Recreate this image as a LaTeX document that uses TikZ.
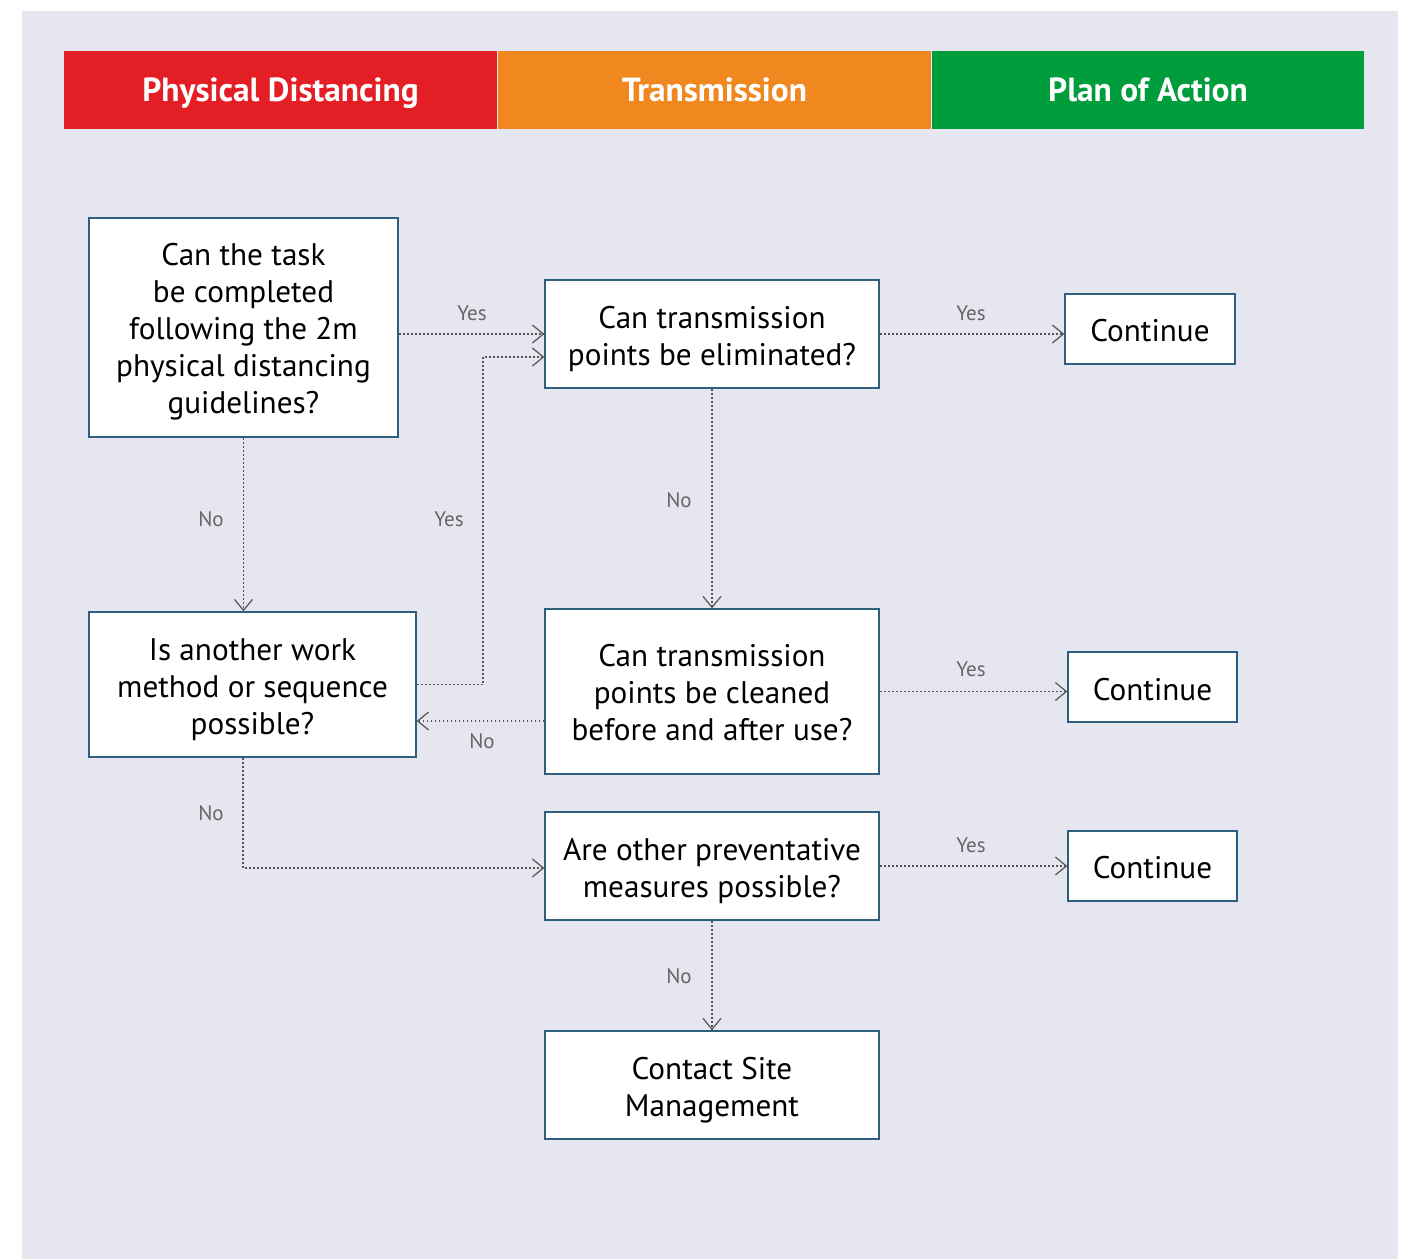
\documentclass[tikz,border=0pt]{standalone}
\usepackage{fontspec}
\setmainfont{PT Sans}
\usetikzlibrary{arrows.meta}
\definecolor{bgc}{HTML}{E5E6EF}
\definecolor{redc}{HTML}{E31F25}
\definecolor{orangec}{HTML}{F0871F}
\definecolor{greenc}{HTML}{009D3D}
\definecolor{boxc}{HTML}{2E5F7F}
\definecolor{linec}{HTML}{555555}
\definecolor{labc}{HTML}{666666}
\begin{document}
\begin{tikzpicture}[x=0.5pt,y=-0.5pt,
  box/.style={draw=boxc, line width=0.7pt, fill=white, inner sep=0pt},
  btext/.style={align=center, inner sep=0pt, font=\fontsize{15.6}{18.5}\selectfont},
  header/.style={inner sep=0pt, text=white, font=\fontsize{16.7}{18}\selectfont\bfseries,
    minimum height=39pt, text height=12pt, text depth=1pt},
  conn/.style={draw=linec, line width=0.9pt, dash pattern=on 0.9pt off 1.1pt,
    -{Straight Barb[length=5.5pt,width=9pt,line width=0.6pt]}},
  lab/.style={text=labc, font=\fontsize{10.5}{12}\selectfont, inner sep=0pt}]
\useasboundingbox (0,0) rectangle (1404,1259);
\fill[white] (0,0) rectangle (1404,1259);
\fill[bgc] (22,11) rectangle (1398,1259);
% headers
\node[header, fill=redc, minimum width=216.5pt] (h1) at (280.5,90) {Physical Distancing};
\node[header, fill=orangec, minimum width=216.5pt] (h2) at (714.5,90) {Transmission};
\node[header, fill=greenc, minimum width=216pt] (h3) at (1148,90) {Plan of Action};
% boxes
\node[box, minimum width=154.5pt, minimum height=109.5pt] (A) at (243.5,327.5) {};
\node[btext, yshift=-2pt] (At) at (A.center)
  {Can the task\\be completed\\following the 2m\\physical distancing\\guidelines?};
\node[box, minimum width=167pt, minimum height=54pt] (B) at (712,334) {};
\node[btext, yshift=-2.5pt] (Bt) at (B.center) {Can transmission\\points be eliminated?};
\node[box, minimum width=85pt, minimum height=35pt] (C) at (1150,329) {};
\node[btext, yshift=-1pt] (Ct) at (C.center) {Continue};
\node[box, minimum width=163.5pt, minimum height=72.5pt] (D) at (252.5,684.5) {};
\node[btext, yshift=-2.5pt] (Dt) at (D.center) {Is another work\\method or sequence\\possible?};
\node[box, minimum width=167pt, minimum height=82.5pt] (E) at (712,691.5) {};
\node[btext, yshift=-0.5pt] (Et) at (E.center)
  {Can transmission\\points be cleaned\\before and after use?};
\node[box, minimum width=84.5pt, minimum height=35pt] (F) at (1152.5,687) {};
\node[btext, yshift=-1.5pt] (Ft) at (F.center) {Continue};
\node[box, minimum width=167pt, minimum height=54pt] (G) at (712,866) {};
\node[btext, yshift=-2.5pt] (Gt) at (G.center) {Are other preventative\\measures possible?};
\node[box, minimum width=84.5pt, minimum height=35pt] (H) at (1152.5,866) {};
\node[btext, yshift=-1pt] (Ht) at (H.center) {Continue};
\node[box, minimum width=167pt, minimum height=54pt] (I) at (712,1085) {};
\node[btext, yshift=-2.5pt] (It) at (I.center) {Contact Site\\Management};
% helper coordinates
\coordinate (jy) at (483,357);
\coordinate (n1) at (0,721);
\coordinate (n2) at (243,868);
% connectors
\draw[conn] (A.east |- B.west) -- (B.west);
\draw[conn] (A.south) -- (A.south |- D.north);
\draw[conn] (D.east) -| (jy) -- (B.west |- jy);
\draw[conn] (E.west |- n1) -- (D.east |- n1);
\draw[conn] (B.south) -- (E.north);
\draw[conn] (B.east) -- (C.west |- B.east);
\draw[conn] (E.east) -- (F.west |- E.east);
\draw[conn] (n2 |- D.south) -- (n2) -- (G.west |- n2);
\draw[conn] (G.east) -- (H.west |- G.east);
\draw[conn] (G.south) -- (I.north);
% labels
\node[lab] (l1) at (472,313) {Yes};
\node[lab] (l2) at (211,519) {No};
\node[lab] (l3) at (449,519) {Yes};
\node[lab] (l4) at (482,741) {No};
\node[lab] (l5) at (679,500) {No};
\node[lab] (l6) at (971,313) {Yes};
\node[lab] (l7) at (971,669) {Yes};
\node[lab] (l8) at (211,813) {No};
\node[lab] (l9) at (971,845) {Yes};
\node[lab] (l10) at (679,976) {No};
\end{tikzpicture}
\end{document}
